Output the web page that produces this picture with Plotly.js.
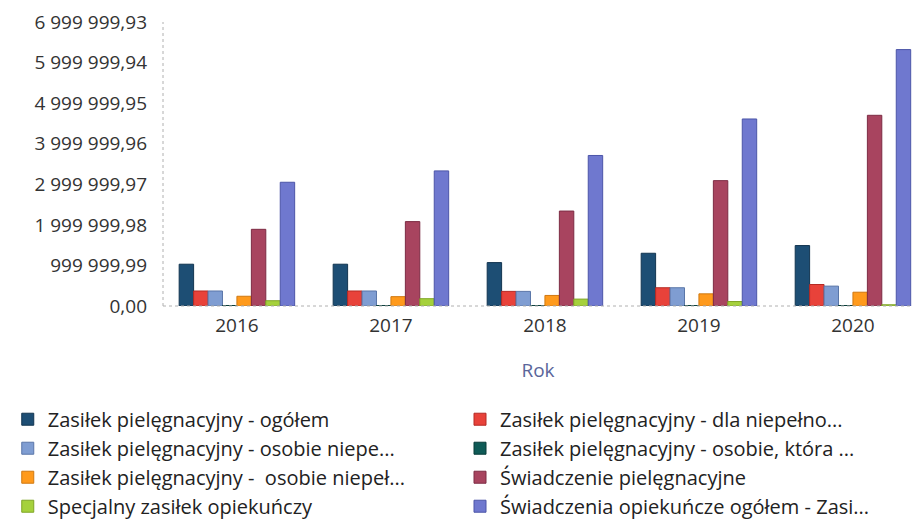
<!DOCTYPE html>
<html>
<head>
<meta charset="utf-8">
<script src="https://cdn.plot.ly/plotly-3.0.1.min.js"></script>
<style>
    html, body { margin: 0; padding: 0; background: #fff; }
    #plot { width: 913px; height: 519px; }
</style>
</head>
<body>
<div id="plot"></div>
<script>
    // Lata
    const years = ['2016', '2017', '2018', '2019', '2020'];

    // Nazwy serii (tak jak w legendzie)
    const seriesNames = [
        'Zasiłek pielęgnacyjny - ogółem',
        'Zasiłek pielęgnacyjny - dla niepełno...',
        'Zasiłek pielęgnacyjny - osobie niepe...',
        'Zasiłek pielęgnacyjny - osobie, która ...',
        'Zasiłek pielęgnacyjny -  osobie niepeł...',
        'Świadczenie pielęgnacyjne',
        'Specjalny zasiłek opiekuńczy',
        'Świadczenia opiekuńcze ogółem - Zasi...'
    ];

    // Wartości
    const zasilekOgolem = [1030000, 1030000, 1070000, 1300000, 1490000];
    const zasilekDlaNiepelno = [370000, 370000, 360000, 450000, 530000];
    const zasilekOsobieNiepe = [370000, 370000, 360000, 450000, 490000];
    const zasilekOsobieKtora = [12000, 10000, 10000, 10000, 12000];
    const zasilekOsobieNiepel = [240000, 230000, 260000, 300000, 340000];
    const swiadczeniePiel = [1890000, 2080000, 2340000, 3090000, 4700000];
    const specjalnyZasilek = [130000, 180000, 170000, 110000, 30000];
    const swiadczeniaOgolem = [3050000, 3330000, 3710000, 4610000, 6320000];

    // Etykiety osi Y
    const yTickVals = [0, 999999.99, 1999999.98, 2999999.97, 3999999.96, 4999999.95, 5999999.94, 6999999.93];
    const yTickText = ['0,00', '999 999,99', '1 999 999,98', '2 999 999,97', '3 999 999,96', '4 999 999,95', '5 999 999,94', '6 999 999,93'];

    const colors = ['#1d4e74', '#e8423a', '#7f9dd2', '#0f5b57', '#ff9a1c', '#a8445f', '#a5d13c', '#6f78cf'];
    const lineColors = ['#123550', '#b52a24', '#5a76a8', '#083c39', '#d07810', '#7d2c44', '#7fa526', '#4c55a8'];

    const allValues = [zasilekOgolem, zasilekDlaNiepelno, zasilekOsobieNiepe, zasilekOsobieKtora,
        zasilekOsobieNiepel, swiadczeniePiel, specjalnyZasilek, swiadczeniaOgolem];

    // Legenda w dwóch kolumnach: parzyste po lewej, nieparzyste po prawej
    const data = allValues.map(function (vals, i) {
        return {
            type: 'bar',
            name: seriesNames[i],
            x: years,
            y: vals,
            legend: i % 2 === 0 ? 'legend' : 'legend2',
            marker: { color: colors[i], line: { color: lineColors[i], width: 1 } },
            hoverinfo: 'none'
        };
    });

    const legendBase = {
        orientation: 'v',
        xanchor: 'left',
        y: -0.33,
        yanchor: 'top',
        font: { size: 20, color: '#222222' },
        traceorder: 'normal',
        tracegroupgap: 0,
        bgcolor: 'rgba(0,0,0,0)'
    };

    const layout = {
        width: 913,
        height: 519,
        margin: { l: 163, r: 0, t: 22, b: 213, autoexpand: false },
        paper_bgcolor: '#ffffff',
        plot_bgcolor: '#ffffff',
        font: { family: 'Open Sans, sans-serif', size: 19, color: '#333333' },
        barmode: 'group',
        bargap: 0.25,
        bargroupgap: 0,
        showlegend: true,
        xaxis: {
            type: 'category',
            range: [-0.48, 4.39],
            showgrid: false,
            zeroline: false,
            showline: false,
            ticks: '',
            ticklabelstandoff: 6,
            tickfont: { size: 19, color: '#333333' },
            title: { text: 'Rok', font: { size: 19, color: '#5a659a' }, standoff: 26 }
        },
        yaxis: {
            range: [0, 6999999.93],
            tickvals: yTickVals,
            ticktext: yTickText,
            showgrid: false,
            zeroline: false,
            showline: false,
            ticks: '',
            ticklabelstandoff: 15,
            tickfont: { size: 19, color: '#333333' }
        },
        shapes: [
            { type: 'line', xref: 'paper', yref: 'paper', x0: 0, x1: 0, y0: 0, y1: 1,
              line: { color: '#b0b0b0', width: 1, dash: 'dot' } },
            { type: 'line', xref: 'paper', yref: 'paper', x0: 0, x1: 1, y0: 0, y1: 0,
              line: { color: '#b0b0b0', width: 1, dash: 'dot' } }
        ],
        legend: Object.assign({}, legendBase, { x: -0.207 }),
        legend2: Object.assign({}, legendBase, { x: 0.396 })
    };

    Plotly.newPlot('plot', data, layout, { displayModeBar: false, staticPlot: true });
</script>
</body>
</html>
